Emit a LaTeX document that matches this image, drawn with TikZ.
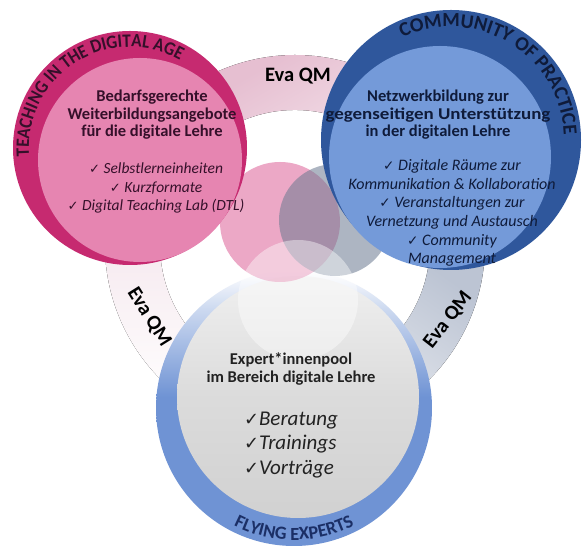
\documentclass[tikz,border=0pt]{standalone}
\usepackage{fontspec}
\usepackage{graphicx}
\setmainfont{Carlito}
\newfontfamily\chkfont{DejaVu Sans}
\newfontfamily\ttlfont{Carlito}[FakeStretch=0.9]
\usetikzlibrary{decorations.text,calc}
\definecolor{pinkdark}{HTML}{C62A70}
\definecolor{pinklight}{HTML}{E685B1}
\definecolor{bluedark}{HTML}{2F579C}
\definecolor{bluelight}{HTML}{749AD9}
\definecolor{ringblue}{HTML}{6F93D4}
\colorlet{ringfade}{ringblue!35!white}
\definecolor{pinktext}{HTML}{35102A}
\definecolor{bluetext}{HTML}{0F1B3A}
\definecolor{graytext}{HTML}{222222}
\definecolor{fetext}{HTML}{1B2F66}
\definecolor{pinksmall}{HTML}{E27AA8}
\definecolor{graysmall}{HTML}{6B7A90}
\definecolor{bandpink}{HTML}{E6BFD1}
\definecolor{bandpink2}{HTML}{EDD5E0}
\definecolor{bandgray}{HTML}{BCC4D3}
\pgfdeclareverticalshading{bottomfade}{100bp}{color(0bp)=(ringblue); color(25bp)=(ringblue); color(52bp)=(ringblue); color(68bp)=(ringfade); color(75bp)=(white); color(100bp)=(white)}
\newcommand\ck{\scalebox{0.85}{\chkfont ✓}}
\newcommand\pinkttl{\ttlfont\bfseries\fontsize{19}{20}\selectfont\color{pinktext}}
\newcommand\bluettl{\bfseries\fontsize{20}{21}\selectfont\color{bluetext}}
\newcommand\fettl{\bfseries\fontsize{18.5}{20}\selectfont\color{fetext}}
\tikzset{
  head/.style={align=center, inner sep=0pt, font=\fontsize{16.5}{17.5}\selectfont\bfseries},
  items/.style={align=center, inner sep=0pt, font=\fontsize{15.5}{18.5}\selectfont\itshape},
  evaqm/.style={inner sep=0pt, font=\fontsize{20.5}{22}\selectfont\bfseries, text=black},
}
\begin{document}
\begin{tikzpicture}[x=1pt,y=1pt]
\useasboundingbox (0,0) rectangle (584,546);
\fill[white] (0,0) rectangle (584,546);
\coordinate (R) at (295,301);
% background ring (Eva QM bands)
\fill[top color=bandpink, bottom color=white, shading angle=30]
  ($(R)+(0:190)$) arc[start angle=0,end angle=120,radius=190]
  -- ($(R)+(120:135)$) arc[start angle=120,end angle=0,radius=135] -- cycle;
\fill[top color=bandpink2, bottom color=white]
  ($(R)+(120:190)$) arc[start angle=120,end angle=240,radius=190]
  -- ($(R)+(240:135)$) arc[start angle=240,end angle=120,radius=135] -- cycle;
\fill[top color=bandgray, bottom color=white, shading angle=-35]
  ($(R)+(240:190)$) arc[start angle=240,end angle=360,radius=190]
  -- ($(R)+(360:135)$) arc[start angle=360,end angle=240,radius=135] -- cycle;
% bottom circle
\coordinate (BO) at (294,138);
\coordinate (BI) at (298,149);
\shade[shading=bottomfade] (BO) circle[radius=138];
\shade[top color=white!94!black, bottom color=white!82!black, middle color=white!86!black] (BI) circle[radius=121];
% small centre circles
\fill[pinksmall, opacity=0.65] (280,324) circle[radius=60];
\fill[graysmall, opacity=0.55] (335,326) circle[radius=56];
\fill[white, opacity=0.42] (298,246) circle[radius=60];
% pink circle
\coordinate (PO) at (130,398);
\fill[pinkdark] (PO) circle[radius=117];
\fill[pinklight] (140,386) circle[radius=102];
% blue circle
\coordinate (QO) at (451,406);
\fill[bluedark] (QO) circle[radius=130];
\fill[bluelight] (440,389) circle[radius=111];
% curved titles
\path[decorate, decoration={text along path, text align=center,
  text={|\pinkttl|TEACHING IN THE DIGITAL AGE}}]
  ($(PO)+(200:101)$) arc[start angle=200,end angle=45,radius=101];
\path[decorate, decoration={text along path, text align=center,
  text={|\bluettl|COMMUNITY OF PRACTICE}}]
  ($(QO)+(130:113)$) arc[start angle=130,end angle=-12,radius=113];
\path[decorate, decoration={text along path, text align=center,
  text={|\fettl|FLYING EXPERTS}}]
  ($(BO)+(230:132)$) arc[start angle=230,end angle=310,radius=132];
% Eva QM labels
\node[evaqm, anchor=base] (evatop) at (298,464) {Eva QM};
\node[evaqm, rotate=-58] (evaleft) at (149,229) {Eva QM};
\node[evaqm, rotate=52] (evaright) at (448,226) {Eva QM};
% texts
\node[head, text=pinktext] (pinkhead) at (152,431) {Bedarfsgerechte\\Weiterbildungsangebote\\für die digitale Lehre};
\node[items, text=pinktext] (pinklist) at (156,358) {\ck\ Selbstlerneinheiten\\\ck\ Kurzformate\\\ck\ Digital Teaching Lab (DTL)};
\node[head, text=bluetext] (bluehead) at (438,431) {Netzwerkbildung zur\\\scalebox{1.15}[1]{gegenseitigen Unterstützung}\\in der digitalen Lehre};
\node[items, text=bluetext, font=\fontsize{16}{18.7}\selectfont\itshape] (bluelist) at (452,333) {\ck\ Digitale Räume zur\\Kommunikation \& Kollaboration\\\ck\ Veranstaltungen zur\\Vernetzung und Austausch\\\ck\ Community\\Management};
\node[head, text=graytext, font=\fontsize{16.5}{18}\selectfont\bfseries] (grayhead) at (291,177) {Expert*innenpool\\im Bereich digitale Lehre};
\node[items, align=left, text=graytext, font=\fontsize{21}{24.5}\selectfont\itshape] (graylist) at (291,101) {\ck Beratung\\\ck Trainings\\\ck Vorträge};
\end{tikzpicture}
\end{document}
